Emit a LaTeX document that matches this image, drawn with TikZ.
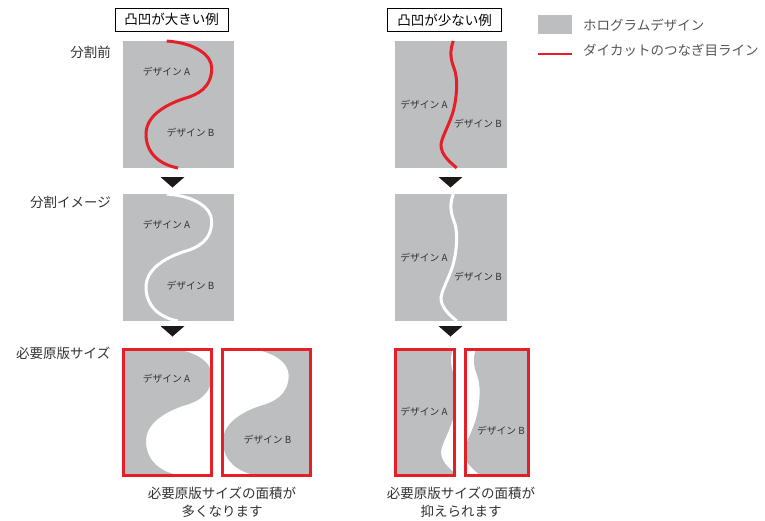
\documentclass[tikz,border=0pt]{standalone}
\usepackage{fontspec}
\newfontfamily\jp{Noto Sans CJK JP}
\definecolor{holo}{RGB}{188,190,192}
\definecolor{cutred}{RGB}{230,30,40}
\definecolor{txt}{RGB}{50,50,50}
\definecolor{legtxt}{RGB}{85,85,85}
\definecolor{tri}{RGB}{30,25,25}
\newcommand\leftS{(166.7,41) .. controls (195,43) and (211.7,55) .. (211.7,68) .. controls (211.7,88) and (197,94.7) .. (186,98) .. controls (175,101.3) and (146,112) .. (146,134) .. controls (146,155) and (162,165) .. (178,168)}
\newcommand\rightS{(453.3,41) .. controls (450,50) and (450,58) .. (454,68) .. controls (458,78) and (457,95) .. (454,108) .. controls (451,122) and (441,138) .. (441,145) .. controls (441,155) and (450,162) .. (456.7,168)}
\begin{document}
\begin{tikzpicture}[x=1pt,y=-1pt,
  lbl/.style={font=\jp\fontsize{13.5}{18.5}\selectfont, text=txt, inner sep=0pt},
  leg/.style={font=\jp\fontsize{13.5}{16}\selectfont, text=legtxt, inner sep=0pt, anchor=west},
  dsg/.style={font=\jp\fontsize{9.8}{11}\selectfont, text=txt, inner sep=0pt},
  casebox/.style={draw=black, line width=1pt, text=black, font=\jp\fontsize{13.5}{16}\selectfont, inner sep=0pt, minimum height=23pt},
  cutline/.style={draw=cutred, line width=3pt},
  gapline/.style={draw=white, line width=3pt},
  platebox/.style={draw=cutred, line width=3pt},
  arrowtri/.style={fill=tri}]
\useasboundingbox (0,0) rectangle (765,520);
% headers
\node[casebox, minimum width=113pt] (hl) at (171.5,19.5) {凸凹が大きい例};
\node[casebox, minimum width=114pt] (hr) at (444.5,20) {凸凹が少ない例};
% legend
\fill[holo] (538,15) rectangle (572,33.5);
\node[leg] (lg1) at (583,25) {ホログラムデザイン};
\draw[cutred, line width=2.3pt] (538,54) -- (572,54);
\node[leg] (lg2) at (583,50) {ダイカットのつなぎ目ライン};
% row labels
\node[lbl, anchor=east] (r1) at (111,52) {分割前};
\node[lbl, anchor=east] (r2) at (111,202.5) {分割イメージ};
\node[lbl, anchor=east] (r3) at (110.5,353) {必要原版サイズ};
% ---------- row 1 ----------
\fill[holo] (123,41) rectangle (234,168);
\draw[cutline] \leftS;
\node[dsg] (a1) at (166.5,72) {デザイン A};
\node[dsg] (b1) at (190.5,133) {デザイン B};
\fill[holo] (395,41) rectangle (507,168);
\draw[cutline] \rightS;
\node[dsg] (a2) at (424,105) {デザイン A};
\node[dsg] (b2) at (478,124) {デザイン B};
% arrows
\fill[arrowtri] (160.5,177) -- (184.5,177) -- (172.5,187.5) -- cycle;
\fill[arrowtri] (438.5,177) -- (462.5,177) -- (450.5,187.5) -- cycle;
\fill[arrowtri] (160.5,326) -- (184.5,326) -- (172.5,336.5) -- cycle;
\fill[arrowtri] (438.5,326) -- (462.5,326) -- (450.5,336.5) -- cycle;
% ---------- row 2 ----------
\begin{scope}[shift={(0,153)}]
\fill[holo] (123,41) rectangle (234,168);
\draw[gapline] \leftS;
\node[dsg] (a3) at (166.5,72) {デザイン A};
\node[dsg] (b3) at (190.5,133) {デザイン B};
\fill[holo] (395,41) rectangle (507,168);
\draw[gapline] \rightS;
\node[dsg] (a4) at (424,105) {デザイン A};
\node[dsg] (b4) at (478,124) {デザイン B};
\end{scope}
% ---------- row 3 ----------
\begin{scope}[shift={(0,307)}]
\begin{scope}
\clip (123,42.5) rectangle (211.5,168.5);
\fill[holo] \leftS -- (123,168) -- (123,41) -- cycle;
\end{scope}
\draw[platebox] (123,42.5) rectangle (211.5,168.5);
\node[dsg] (a5) at (166.5,72) {デザイン A};
\begin{scope}[shift={(77,0)}]
\begin{scope}
\clip (145.5,42.5) rectangle (233.5,168.5);
\fill[holo] \leftS -- (234,168) -- (234,41) -- cycle;
\end{scope}
\draw[platebox] (145.5,42.5) rectangle (233.5,168.5);
\node[dsg] (b5) at (190.5,133) {デザイン B};
\end{scope}
\begin{scope}
\clip (395.5,42.5) rectangle (454.5,168.5);
\fill[holo] \rightS -- (395,168) -- (395,41) -- cycle;
\end{scope}
\draw[platebox] (395.5,42.5) rectangle (454.5,168.5);
\node[dsg] (a6) at (424,105) {デザイン A};
\begin{scope}[shift={(23,0)}]
\begin{scope}
\clip (442.5,42.5) rectangle (505,168.5);
\fill[holo] \rightS -- (507,168) -- (507,41) -- cycle;
\end{scope}
\draw[platebox] (442.5,42.5) rectangle (505,168.5);
\node[dsg] (b6) at (478,124) {デザイン B};
\end{scope}
\end{scope}
% bottom notes
\node[lbl, align=center] (n1) at (222,502.5) {必要原版サイズの面積が\\多くなります};
\node[lbl, align=center] (n2) at (461,502.5) {必要原版サイズの面積が\\抑えられます};
\end{tikzpicture}
\end{document}
